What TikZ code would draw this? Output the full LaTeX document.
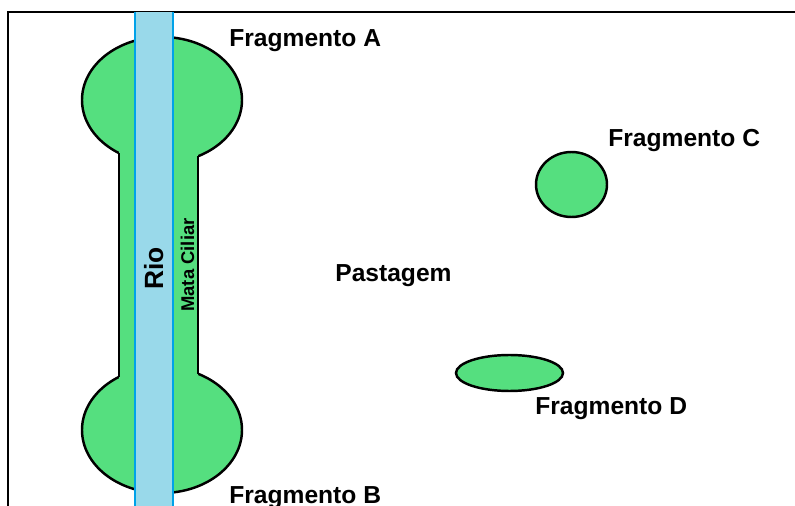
\documentclass[tikz,border=0pt]{standalone}
\usepackage{fontspec}
\setmainfont{Liberation Sans}
\usepackage{tikz}
\usetikzlibrary{positioning}
\definecolor{mata1}{HTML}{55DF7F}
\definecolor{rio1}{HTML}{99D9EA}
\definecolor{rioborda}{HTML}{00A2E8}

\begin{document}
\begin{tikzpicture}[
    x=0.02cm, y=-0.02cm,
    lbl/.style={font=\bfseries\fontsize{14}{16}\selectfont, inner sep=0pt,
                anchor=base west},
    mancha/.style={draw=black, fill=mata1, line width=1.4pt},
]
\useasboundingbox (0,0) rectangle (795,506);

% moldura
\draw[line width=1.1pt] (8,506) -- (8,12) -- (795,12);

% fragmentos A e B ligados pela mata ciliar
\draw[mancha] (162,100) ellipse [x radius=80, y radius=63];
\draw[mancha] (162,430) ellipse [x radius=80, y radius=63];
\fill[mata1] (119,145) rectangle (198,385);
\draw[line width=1.4pt] (119,153) -- (119,377);
\draw[line width=1.4pt] (198,156) -- (198,374);

% rio
\fill[rio1] (135,12) rectangle (173,506);
\draw[rioborda, line width=1.1pt] (135,12) -- (135,506);
\draw[rioborda, line width=1.1pt] (173,12) -- (173,506);

% fragmentos isolados
\draw[mancha] (571.5,184.5) ellipse [x radius=35.5, y radius=32.5];
\draw[mancha] (509.5,373) ellipse [x radius=53.5, y radius=18];

% textos
\node[lbl] (fragA) at (229,47) {Fragmento A};
\node[lbl] (fragB) at (229,504) {Fragmento B};
\node[lbl] (fragC) at (608,147) {Fragmento C};
\node[lbl] (fragD) at (535,415) {Fragmento D};
\node[lbl] (pasto) at (335,282) {Pastagem};
\node[lbl, rotate=90, font=\bfseries\fontsize{15}{17}\selectfont]
    (rio) at (163,290) {Rio};
\node[lbl, rotate=90, font=\bfseries\fontsize{10.5}{12}\selectfont]
    (mata) at (194,312) {Mata Ciliar};
\end{tikzpicture}
\end{document}
